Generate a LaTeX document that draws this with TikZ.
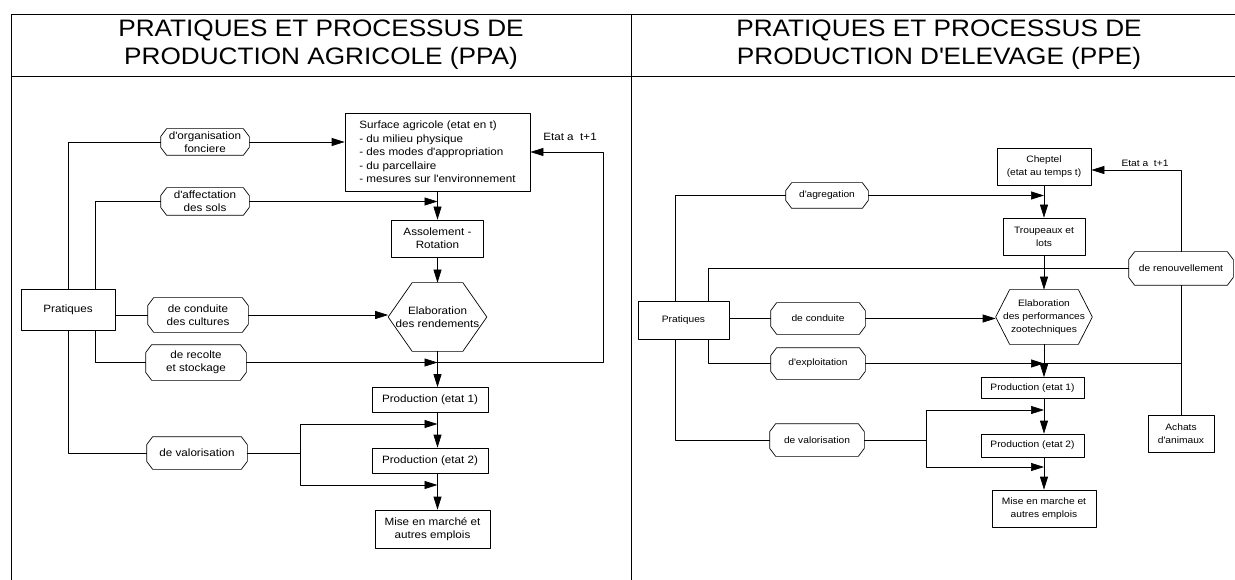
\documentclass[tikz,border=0pt]{standalone}
\usepackage{fontspec}
\setmainfont[FakeStretch=1.1]{Liberation Sans}
\usetikzlibrary{arrows.meta}
\newcommand\titre{\fontsize{23.8}{28}\selectfont}
\newcommand\petitL{\fontsize{10.6}{13.4}\selectfont}
\newcommand\petitR{\fontsize{9.3}{13}\selectfont}
\newcommand\ap{\textquotesingle}
\begin{document}
\begin{tikzpicture}[x=1pt, y=-1pt, line width=.7pt, line join=round, >={Triangle[length=13pt,width=8pt]},
		etat/.style={draw, align=center, inner sep=0pt},
		pratique/.style={align=center, inner sep=0pt},
		sz/.style 2 args={minimum width=#1pt, minimum height=#2pt}]
	\useasboundingbox (0,0) rectangle (1235,580);
	\draw[line width=.8pt] (11,14) -- (1235,14) (11,76) -- (1235,76) (11,14) -- (11,580) (631,14) -- (631,580);
	\node[align=center, font=\titre] (titreL) at (321,45) {PRATIQUES ET PROCESSUS DE\\PRODUCTION AGRICOLE (PPA)};
	\node[align=center, font=\titre] (titreR) at (939,45) {PRATIQUES ET PROCESSUS DE\\PRODUCTION D\ap ELEVAGE (PPE)};
	% PPA
	\node[etat, sz={185}{78}, align=left, font=\petitL] (surfL) at (437.5,152) {Surface agricole (etat en t)\\- du milieu physique\\- des modes d\ap appropriation\\- du parcellaire\\- mesures sur l\ap environnement};
	\node[font=\petitL] (etatL) at (570,137) {Etat a \ t+1};
	\node[etat, sz={92}{37}, font=\petitL] (assoL) at (437.5,238.5) {Assolement -\\Rotation};
	\node[pratique, sz={98}{68}, font=\petitL] (elabL) at (437.5,317) {Elaboration\\des rendements};
	\node[etat, sz={116}{25}, font=\petitL] (prod1L) at (430,400) {Production (etat 1)};
	\node[etat, sz={116}{25}, font=\petitL] (prod2L) at (430,460.5) {Production (etat 2)};
	\node[etat, sz={115}{38}, font=\petitL] (miseL) at (432.5,529) {Mise en marché et\\autres emplois};
	\node[etat, sz={94}{41}, font=\petitL] (pratL) at (68,309.5) {Pratiques};
	\node[pratique, sz={88}{26}, font=\petitL] (orgL) at (205,142) {d\ap organisation\\fonciere};
	\node[pratique, sz={88}{27}, font=\petitL] (affL) at (205,201.5) {d\ap affectation\\des sols};
	\node[pratique, sz={100}{34}, font=\petitL] (condL) at (198,315) {de conduite\\des cultures};
	\node[pratique, sz={100}{35}, font=\petitL] (recL) at (196,362.5) {de recolte\\et stockage};
	\node[pratique, sz={100}{32}, font=\petitL] (valL) at (197,453) {de valorisation};
	\coordinate (retourL) at (603,362.5);
	\coordinate (valhL) at (300,424);
	\coordinate (valbL) at (300,485);
	\draw (pratL.north) |- (orgL.west);
	\draw ([xshift=27pt]pratL.north) |- (affL.west);
	\draw[->] (orgL.east) -- (orgL.east -| surfL.west);
	\draw[->] (affL.east) -- (affL.east -| surfL.south);
	\draw[->] (surfL) -- (assoL);
	\draw[->] (assoL) -- (elabL);
	\draw (condL.west -| pratL.east) -- (condL.west);
	\draw[->] (condL.east) -- (condL.east -| elabL.west);
	\draw ([xshift=27pt]pratL.south) |- (recL.west);
	\draw[->] (recL.east) -- (recL.east -| elabL.south);
	\draw[->] (recL.east) -- (retourL) |- (surfL.east);
	\draw[->] (elabL) -- (elabL.south |- prod1L.north);
	\draw (pratL.south) |- (valL.west);
	\draw (valL.east) -- (valL.east -| valhL);
	\draw[<->] (valhL -| elabL.south) -- (valhL) -- (valbL) -- (valbL -| elabL.south);
	\draw[->] (elabL.south |- prod1L.south) -- (elabL.south |- prod2L.north);
	\draw[->] (elabL.south |- prod2L.south) -- (elabL.south |- miseL.north);
	% PPE
	\node[etat, sz={94}{37}, font=\petitR] (cheptR) at (1044,167) {Cheptel\\(etat au temps t)};
	\node[font=\petitR] (etatR) at (1145,163) {Etat a \ t+1};
	\node[etat, sz={82}{37}, font=\petitR] (troupR) at (1044,236.5) {Troupeaux et\\lots};
	\node[pratique, sz={96}{54}, font=\petitR] (elabR) at (1044,317) {Elaboration\\des performances\\zootechniques};
	\node[etat, sz={103}{21}, font=\petitR] (prod1R) at (1032.5,388) {Production (etat 1)};
	\node[etat, sz={103}{23}, font=\petitR] (prod2R) at (1032.5,445.5) {Production (etat 2)};
	\node[etat, sz={104}{37}, font=\petitR] (miseR) at (1044,508.5) {Mise en marche et\\autres emplois};
	\node[etat, sz={66}{37}, font=\petitR] (achR) at (1181,433.5) {Achats\\d\ap animaux};
	\node[etat, sz={91}{38}, font=\petitR] (pratR) at (683.5,320) {Pratiques};
	\node[pratique, sz={82}{25}, font=\petitR] (agrR) at (827,195.5) {d\ap agregation};
	\node[pratique, sz={104}{33}, font=\petitR] (renR) at (1181,268.5) {de renouvellement};
	\node[pratique, sz={94}{31}, font=\petitR] (condR) at (818,318.5) {de conduite};
	\node[pratique, sz={94}{31}, font=\petitR] (expR) at (818,363.5) {d\ap exploitation};
	\node[pratique, sz={94}{32}, font=\petitR] (valR) at (817,440) {de valorisation};
	\coordinate (valhR) at (926,410);
	\coordinate (valbR) at (926,467);
	\draw ([xshift=-8pt]pratR.north) |- (agrR.west);
	\draw[->] (agrR.east) -- (agrR.east -| cheptR.south);
	\draw[->] (cheptR) -- (troupR);
	\draw[->] (troupR) -- (elabR);
	\draw ([xshift=24.5pt]pratR.north) |- (renR.west);
	\draw[->] (renR.north) |- ([yshift=-3pt]cheptR.east);
	\draw (renR) -- (achR);
	\draw (condR.west -| pratR.east) -- (condR.west);
	\draw[->] (condR.east) -- (condR.east -| elabR.west);
	\draw ([xshift=24.5pt]pratR.south) |- (expR.west);
	\draw (expR.east) -- (expR.east -| achR.north);
	\draw[->] (expR.east) -- (expR.east -| elabR.south);
	\draw[->] (elabR) -- (elabR.south |- prod1R.north);
	\draw ([xshift=-8pt]pratR.south) |- (valR.west);
	\draw (valR.east) -- (valR.east -| valhR);
	\draw[<->] (valhR -| elabR.south) -- (valhR) -- (valbR) -- (valbR -| elabR.south);
	\draw[->] (elabR.south |- prod1R.south) -- (elabR.south |- prod2R.north);
	\draw[->] (elabR.south |- prod2R.south) -- (elabR.south |- miseR.north);
	% contours
	\foreach \n in {orgL,affL,condL,recL,valL,agrR,renR,condR,expR,valR}
		\draw ([xshift=6pt]\n.north west) -- ([xshift=-6pt]\n.north east) -- ([yshift=-8pt]\n.north east) -- ([yshift=8pt]\n.south east) -- ([xshift=-6pt]\n.south east) -- ([xshift=6pt]\n.south west) -- ([yshift=8pt]\n.south west) -- ([yshift=-8pt]\n.north west) -- cycle;
	\foreach \n/\d in {elabL/24,elabR/14}
		\draw ([xshift=\d pt]\n.north west) -- ([xshift=-\d pt]\n.north east) -- (\n.east) -- ([xshift=-\d pt]\n.south east) -- ([xshift=\d pt]\n.south west) -- (\n.west) -- cycle;
\end{tikzpicture}
\end{document}
